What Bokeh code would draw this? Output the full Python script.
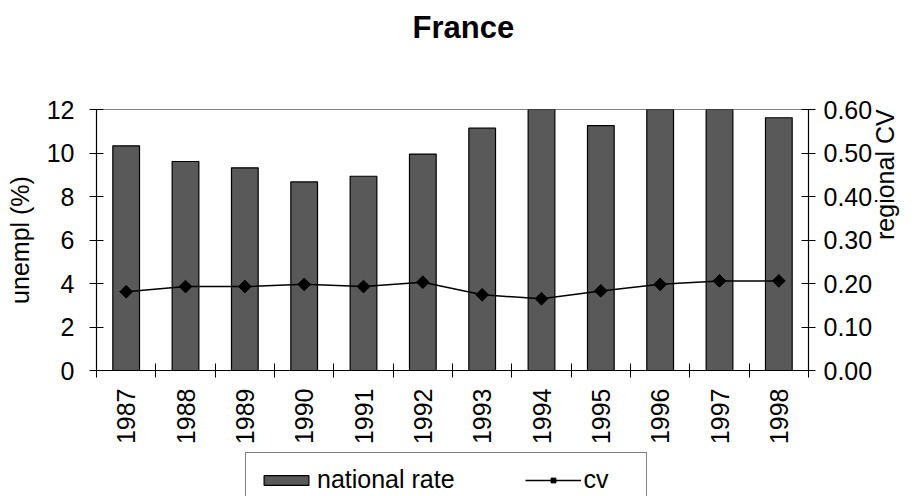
import numpy as np
from math import pi
from bokeh.plotting import figure
from bokeh.layouts import column
from bokeh.models import (Range1d, LinearAxis, FixedTicker, Legend, LegendItem,
                          ColumnDataSource, NumeralTickFormatter)
from bokeh.embed import file_html
from bokeh.resources import INLINE

years = ["1987", "1988", "1989", "1990", "1991", "1992",
         "1993", "1994", "1995", "1996", "1997", "1998"]
national_rate = [10.33, 9.61, 9.32, 8.67, 8.93, 9.95,
                 11.14, 12.17, 11.26, 12.0, 12.0, 11.62]
cv = [0.181, 0.193, 0.193, 0.198, 0.193, 0.203,
      0.174, 0.165, 0.183, 0.198, 0.206, 0.206]
left_ticks = [0, 2, 4, 6, 8, 10, 12]
right_ticks = [0.0, 0.1, 0.2, 0.3, 0.4, 0.5, 0.6]

FONT = "Liberation Sans"
FS = "25px"
BAR_FILL = "#595959"
W = 918

xs = np.arange(len(years)) + 0.5
src = ColumnDataSource(dict(x=xs, rate=national_rate, cv=cv, year=years))

# ---------- title strip ----------
t = figure(width=W, height=60, output_backend="svg", toolbar_location=None,
           x_axis_location=None, y_axis_location=None, min_border=0,
           x_range=Range1d(0, 1), y_range=Range1d(0, 1))
t.outline_line_color = None
t.xgrid.visible = False
t.ygrid.visible = False
t.title.text = "France"
t.title.text_font = FONT
t.title.text_font_size = "31px"
t.title.text_font_style = "bold"
t.title.text_color = "black"
t.title.align = "left"
t.title.offset = 316
t.title.standoff = 14

# ---------- main chart ----------
p = figure(width=W, height=391, output_backend="svg", toolbar_location=None,
           x_range=Range1d(0, len(years)), y_range=Range1d(0, 12),
           min_border_left=96, min_border_right=110, min_border_top=49,
           min_border_bottom=81, background_fill_color="white",
           border_fill_color="white")
p.outline_line_color = "#808080"
p.xgrid.visible = False
p.ygrid.visible = False
p.axis.visible = False

p.extra_y_ranges = {"cv": Range1d(0, 0.6)}

bars = p.vbar(x="x", top="rate", width=0.45, source=src, fill_color=BAR_FILL,
              line_color="black", line_width=1.2)
ln = p.line(x="x", y="cv", source=src, y_range_name="cv", line_color="black",
            line_width=1.5)
mk = p.scatter(x="x", y="cv", source=src, y_range_name="cv", marker="square",
               angle=pi / 4, size=9, fill_color="black", line_color="black")

ly = LinearAxis(ticker=FixedTicker(ticks=left_ticks, minor_ticks=[]),
                axis_label="unempl (%)")
ry = LinearAxis(y_range_name="cv", ticker=FixedTicker(ticks=right_ticks, minor_ticks=[]),
                formatter=NumeralTickFormatter(format="0.00"))
# right-hand axis title, read bottom-to-top like the reference
ry_title = LinearAxis(y_range_name="cv",
                      ticker=FixedTicker(ticks=[0.3], minor_ticks=[]),
                      major_label_overrides={0.3: "regional CV"},
                      major_label_orientation=pi / 2)
bx = LinearAxis(ticker=FixedTicker(ticks=list(xs),
                                   minor_ticks=list(range(len(years) + 1))),
                major_label_overrides={float(x): y for x, y in zip(xs, years)},
                major_label_orientation=pi / 2)

for ax in (ly, ry, ry_title, bx):
    ax.axis_line_color = "black"
    ax.axis_line_width = 1.2
    ax.major_tick_line_color = "black"
    ax.major_tick_in = 7
    ax.major_tick_out = 7
    ax.minor_tick_line_color = None
    ax.major_label_text_font = FONT
    ax.major_label_text_font_size = FS
    ax.major_label_text_color = "black"
    ax.axis_label_text_font = FONT
    ax.axis_label_text_font_size = FS
    ax.axis_label_text_font_style = "normal"
    ax.axis_label_text_color = "black"

ly.major_label_standoff = 15
ly.axis_label_standoff = 10
ry.major_label_standoff = 8
ry_title.axis_line_color = None
ry_title.major_tick_line_color = None
ry_title.major_tick_in = 0
ry_title.major_tick_out = 0
ry_title.major_label_standoff = 9
bx.major_tick_line_color = None
bx.major_tick_out = 6
bx.minor_tick_line_color = "black"
bx.minor_tick_in = 7
bx.minor_tick_out = 7
bx.major_label_standoff = 11

p.add_layout(ly, "left")
p.add_layout(ry, "right")
p.add_layout(ry_title, "right")
p.add_layout(bx, "below")

# ---------- legend strip (series drawn off-screen, only the key shows) ----------
q = figure(width=W, height=45, output_backend="svg", toolbar_location=None,
           x_axis_location=None, y_axis_location=None, min_border=0,
           x_range=Range1d(0, len(years)), y_range=Range1d(100, 101))
q.outline_line_color = None
q.xgrid.visible = False
q.ygrid.visible = False
lg_bar = q.vbar(x="x", top="rate", width=0.45, source=src, fill_color=BAR_FILL,
                line_color="black", line_width=1.2)
lg_line = q.line(x="x", y="cv", source=src, line_color="black", line_width=1.5)
lg_mk = q.scatter(x="x", y="cv", source=src, marker="square", angle=pi / 4,
                  size=9, fill_color="black", line_color="black")

legend = Legend(items=[LegendItem(label="national rate", renderers=[lg_bar]),
                       LegendItem(label="cv", renderers=[lg_line, lg_mk])],
                orientation="horizontal", location=(149, -11),
                label_text_font=FONT, label_text_font_size=FS,
                label_text_color="black",
                glyph_width=56, glyph_height=12, label_standoff=3,
                spacing=70, padding=12, margin=0, label_width=50,
                border_line_color="black", border_line_width=1,
                background_fill_color="white", background_fill_alpha=1.0)
q.add_layout(legend, "center")

open("out.html", "w").write(file_html(column(t, p, q), INLINE))
